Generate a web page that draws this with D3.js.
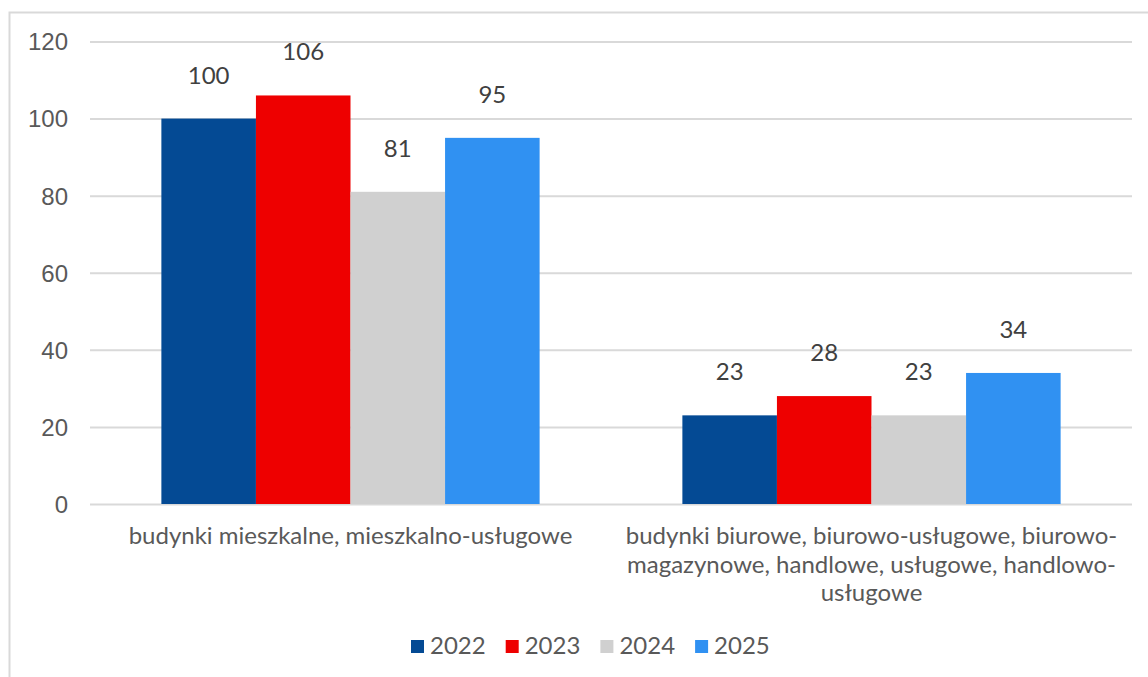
<!DOCTYPE html>
<html><head><meta charset="utf-8">
<script src="https://cdn.jsdelivr.net/npm/d3@7"></script>
<style>body{margin:0;background:#fff}svg{display:block;font-family:Lato,"Open Sans",sans-serif}</style>
</head><body><svg id="c" width="1148" height="677"></svg>
<script>
const categories = ["budynki mieszkalne, mieszkalno-usługowe", "budynki biurowe, biurowo-usługowe, biurowo-magazynowe, handlowe, usługowe, handlowo-usługowe"];
const seriesNames = ["2022", "2023", "2024", "2025"];
const values2022 = [100, 23];
const values2023 = [106, 28];
const values2024 = [81, 23];
const values2025 = [95, 34];
const yTicks = [0, 20, 40, 60, 80, 100, 120];
const colors = ["#044A94", "#EE0000", "#D0D0D0", "#3091F2"];

const seriesValues = [values2022, values2023, values2024, values2025];
const svg = d3.select("#c");
const m = {l: 90, r: 16, t: 41.5, b: 173};
const W = 1148, H = 677;
const FS = "24px";
const x0 = d3.scaleBand().domain(categories).range([m.l, W - m.r]).paddingInner(0).paddingOuter(0);
const y = d3.scaleLinear().domain([0, 120]).range([H - m.b, m.t]);
const groupW = x0.bandwidth() * 0.726;
const x1 = d3.scaleBand().domain(seriesNames).range([0, groupW]);

// border
svg.append("path").attr("d", `M9.5,${H} L9.5,12.5 L${W},12.5`).attr("fill", "none").attr("stroke", "#d9d9d9").attr("stroke-width", 2);

// grid
const yAxis = d3.axisLeft(y).tickValues(yTicks).tickSize(-(W - m.r - m.l)).tickFormat(d3.format("d"));
const ga = svg.append("g").attr("transform", `translate(${m.l},0)`).call(yAxis);
ga.select(".domain").remove();
ga.selectAll(".tick line").attr("stroke", "#d9d9d9").attr("stroke-width", 2);
ga.selectAll(".tick text").attr("x", -22).attr("fill", "#595959").style("font-size", FS).attr("dy", "0.35em");

// bars
const gs = svg.append("g");
categories.forEach((c, ci) => {
  const gx = x0(c) + (x0.bandwidth() - groupW) / 2;
  seriesNames.forEach((s, si) => {
    const v = seriesValues[si][ci];
    gs.append("rect").attr("x", gx + x1(s)).attr("y", y(v)).attr("width", x1.bandwidth()).attr("height", y(0) - y(v)).attr("fill", colors[si]);
  });
});
categories.forEach((c, ci) => {
  const gx = x0(c) + (x0.bandwidth() - groupW) / 2;
  seriesNames.forEach((s, si) => {
    const v = seriesValues[si][ci];
    svg.append("text").attr("x", gx + x1(s) + x1.bandwidth() / 2).attr("y", y(v) - 35)
      .attr("text-anchor", "middle").attr("fill", "#404040").style("font-size", FS).text(v);
  });
});

// category labels with wrapping
function wrapLabel(txt, maxW, cx, yTop) {
  const parts = [];
  let re = /([^\s-]+-?)(\s*)/g, mm;
  while ((mm = re.exec(txt)) !== null) { if (!mm[0]) break; parts.push({w: mm[1], sp: mm[2].length > 0}); }
  const t = svg.append("text").attr("text-anchor", "middle").attr("fill", "#595959").style("font-size", FS);
  let lines = [], cur = "";
  const probe = svg.append("text").style("font-size", FS);
  parts.forEach((p, i) => {
    const prevSp = i > 0 && parts[i - 1].sp;
    const cand = cur === "" ? p.w : cur + (prevSp ? " " : "") + p.w;
    probe.text(cand);
    if (probe.node().getComputedTextLength() > maxW && cur !== "") { lines.push(cur); cur = p.w; }
    else cur = cand;
  });
  lines.push(cur);
  probe.remove();
  lines.forEach((l, i) => t.append("tspan").attr("x", cx).attr("y", yTop + i * 28.5).text(l));
}
categories.forEach(c => wrapLabel(c, 505, x0(c) + x0.bandwidth() / 2, 544));

// legend
const lg = svg.append("g");
seriesNames.forEach((s, i) => {
  const lx = 411 + i * 94.7;
  lg.append("rect").attr("x", lx).attr("y", 640).attr("width", 13).attr("height", 13).attr("fill", colors[i]);
  lg.append("text").attr("x", lx + 19).attr("y", 654).attr("fill", "#595959").style("font-size", FS).text(s);
});
</script></body></html>
